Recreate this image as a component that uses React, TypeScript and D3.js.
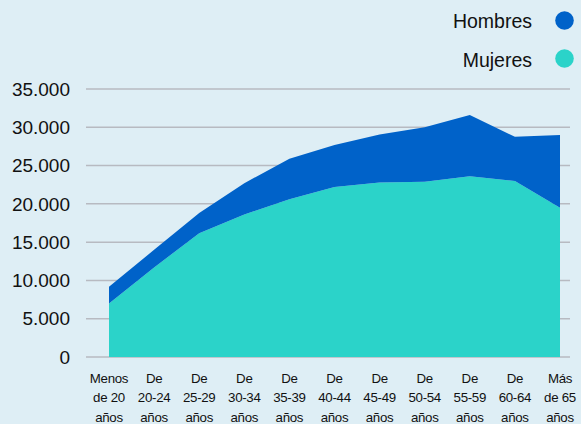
import * as d3 from 'd3';
import React from 'react';

// grupos de edad (eje x)
const grupos = [
  ['Menos', 'de 20', 'años'],
  ['De', '20-24', 'años'],
  ['De', '25-29', 'años'],
  ['De', '30-34', 'años'],
  ['De', '35-39', 'años'],
  ['De', '40-44', 'años'],
  ['De', '45-49', 'años'],
  ['De', '50-54', 'años'],
  ['De', '55-59', 'años'],
  ['De', '60-64', 'años'],
  ['Más', 'de 65', 'años'],
];

// valores
const mujeres = [7000, 11700, 16150, 18600, 20600, 22200, 22800, 22900, 23600, 23000, 19500];
const hombres = [2180, 2300, 2650, 4100, 5300, 5500, 6250, 7100, 8000, 5750, 9500];

const yTicks = [0, 5000, 10000, 15000, 20000, 25000, 30000, 35000];

const series = [
  { key: 'mujeres', label: 'Mujeres', color: '#2bd3c9' },
  { key: 'hombres', label: 'Hombres', color: '#0062c9' },
];

const W = 581;
const H = 424;
const font = '"Liberation Sans", Arial, Helvetica, sans-serif';

export default function App() {
  const rows = grupos.map((g, i) => ({ i, mujeres: mujeres[i], hombres: hombres[i] }));
  const stacked = d3.stack<any>().keys(series.map(s => s.key))(rows);

  const x = d3.scaleLinear().domain([0, grupos.length - 1]).range([109, 560]);
  const y = d3.scaleLinear().domain([0, 35000]).range([357, 89]);

  const area = d3.area<any>()
    .x(d => x(d.data.i))
    .y0(d => y(d[0]))
    .y1(d => y(d[1]));

  const fmt = (v: number) => d3.format(',')(v).replace(/,/g, '.');

  // leyenda: Hombres arriba, Mujeres abajo
  const legend = [series[1], series[0]];

  return (
    <div style={{ position: 'fixed', left: 0, top: 0, width: W, height: H, background: '#deeef5' }}>
      <svg width={W} height={H} style={{ display: 'block', fontFamily: font }}>
        {yTicks.map(t => (
          <g key={t}>
            <line x1={86} x2={570} y1={y(t)} y2={y(t)} stroke="#b7bac1" strokeWidth={1.5} />
            <text x={70} y={y(t)} dy="0.35em" textAnchor="end" fontSize={19} fill="#111">
              {fmt(t)}
            </text>
          </g>
        ))}

        {stacked.map((s, k) => (
          <path key={s.key} d={area(s as any) || ''} fill={series[k].color} />
        ))}

        {grupos.map((g, i) => (
          <text key={i} x={x(i)} textAnchor="middle" fontSize={13.3} fill="#111" letterSpacing={-0.3}>
            {g.map((l, j) => (
              <tspan key={j} x={x(i)} y={382.5 + j * 19.8}>{l}</tspan>
            ))}
          </text>
        ))}

        {legend.map((s, k) => (
          <g key={s.key}>
            <text x={532} y={28 + k * 38.5} textAnchor="end" fontSize={19.5} fill="#111">{s.label}</text>
            <circle cx={564.5} cy={20.5 + k * 38} r={9.3} fill={s.color} />
          </g>
        ))}
      </svg>
    </div>
  );
}
